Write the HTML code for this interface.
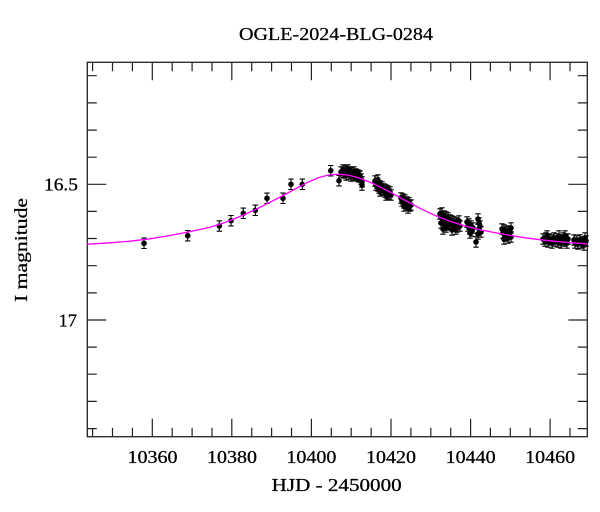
<!DOCTYPE html>
<html><head><meta charset="utf-8">
<style>
html,body{margin:0;padding:0;background:#fff;}
svg{display:block;}
text{font-family:"Liberation Serif",serif;fill:#000;stroke:#000;stroke-width:0.25;}
</style></head>
<body>
<svg width="600" height="512" viewBox="0 0 600 512" xmlns="http://www.w3.org/2000/svg">
<defs>
<g id="p"><path d="M0,-5.2V5.2M-2.7,-5.2H2.7M-2.7,5.2H2.7" stroke="#000" stroke-width="1.1" fill="none"/><circle r="2.8" fill="#000"/></g>
</defs>
<rect width="600" height="512" fill="#fff"/>

<!-- title -->
<text x="336" y="40" font-size="17.5" text-anchor="middle" textLength="194" lengthAdjust="spacingAndGlyphs">OGLE-2024-BLG-0284</text>

<!-- frame -->
<rect x="87.3" y="62.3" width="500" height="374.4" fill="none" stroke="#222" stroke-width="1.3"/>

<!-- x ticks bottom & top -->
<g stroke="#222" stroke-width="1.2">
<path d="M92.6,436.7v-9M112.5,436.7v-9M132.4,436.7v-9M152.3,436.7v-18M172.2,436.7v-9M192.1,436.7v-9M212,436.7v-9M231.8,436.7v-18M251.7,436.7v-9M271.6,436.7v-9M291.5,436.7v-9M311.4,436.7v-18M331.3,436.7v-9M351.2,436.7v-9M371.1,436.7v-9M391,436.7v-18M410.9,436.7v-9M430.8,436.7v-9M450.7,436.7v-9M470.6,436.7v-18M490.4,436.7v-9M510.3,436.7v-9M530.2,436.7v-9M550.1,436.7v-18M570,436.7v-9"/>
<path d="M92.6,62.3v9M112.5,62.3v9M132.4,62.3v9M152.3,62.3v18M172.2,62.3v9M192.1,62.3v9M212,62.3v9M231.8,62.3v18M251.7,62.3v9M271.6,62.3v9M291.5,62.3v9M311.4,62.3v18M331.3,62.3v9M351.2,62.3v9M371.1,62.3v9M391,62.3v18M410.9,62.3v9M430.8,62.3v9M450.7,62.3v9M470.6,62.3v18M490.4,62.3v9M510.3,62.3v9M530.2,62.3v9M550.1,62.3v18M570,62.3v9"/>
<!-- y ticks left & right -->
<path d="M87.3,75.7h9.5M87.3,102.9h9.5M87.3,130.1h9.5M87.3,157.2h9.5M87.3,184.3h19M87.3,211.4h9.5M87.3,238.5h9.5M87.3,265.7h9.5M87.3,292.9h9.5M87.3,320h19M87.3,347.1h9.5M87.3,374.2h9.5M87.3,401.4h9.5M87.3,428.6h9.5"/>
<path d="M587.3,75.7h-9.5M587.3,102.9h-9.5M587.3,130.1h-9.5M587.3,157.2h-9.5M587.3,184.3h-19M587.3,211.4h-9.5M587.3,238.5h-9.5M587.3,265.7h-9.5M587.3,292.9h-9.5M587.3,320h-19M587.3,347.1h-9.5M587.3,374.2h-9.5M587.3,401.4h-9.5M587.3,428.6h-9.5"/>
</g>

<!-- x tick labels -->
<g font-size="17.5" text-anchor="middle">
<text x="152.5" y="463" textLength="50" lengthAdjust="spacingAndGlyphs">10360</text>
<text x="232" y="463" textLength="50" lengthAdjust="spacingAndGlyphs">10380</text>
<text x="311.4" y="463" textLength="50" lengthAdjust="spacingAndGlyphs">10400</text>
<text x="391" y="463" textLength="50" lengthAdjust="spacingAndGlyphs">10420</text>
<text x="470.6" y="463" textLength="50" lengthAdjust="spacingAndGlyphs">10440</text>
<text x="550.1" y="463" textLength="50" lengthAdjust="spacingAndGlyphs">10460</text>
</g>
<!-- y tick labels -->
<g font-size="17.5" text-anchor="end">
<text x="78" y="190.7" textLength="34" lengthAdjust="spacingAndGlyphs">16.5</text>
<text x="77" y="326.5" textLength="18.5" lengthAdjust="spacingAndGlyphs">17</text>
</g>

<!-- axis titles -->
<text x="336.7" y="491" font-size="17.5" text-anchor="middle" textLength="130" lengthAdjust="spacingAndGlyphs">HJD - 2450000</text>
<text transform="translate(27,250) rotate(-90)" x="0" y="0" font-size="18" text-anchor="middle" textLength="104" lengthAdjust="spacingAndGlyphs">I magnitude</text>

<!-- data points -->
<g>
<use href="#p" x="144" y="243.3"/>
<use href="#p" x="187.7" y="235.7"/>
<use href="#p" x="219.3" y="226"/>
<use href="#p" x="231" y="220.7"/>
<use href="#p" x="243.3" y="213.3"/>
<use href="#p" x="255.3" y="210.3"/>
<use href="#p" x="267" y="198.3"/>
<use href="#p" x="283" y="198.3"/>
<use href="#p" x="291" y="184.3"/>
<use href="#p" x="302.3" y="184.3"/>
<use href="#p" x="330.7" y="170.7"/>
<use href="#p" x="339" y="180.7"/>
<!-- cluster A -->
<use href="#p" x="341" y="172"/><use href="#p" x="343" y="170"/><use href="#p" x="344" y="173"/><use href="#p" x="345" y="171"/>
<use href="#p" x="347" y="172"/><use href="#p" x="348" y="170"/><use href="#p" x="349" y="174"/><use href="#p" x="350" y="172"/>
<use href="#p" x="352" y="173"/><use href="#p" x="353" y="175"/><use href="#p" x="354" y="172"/><use href="#p" x="355" y="175"/>
<use href="#p" x="356" y="174"/><use href="#p" x="357" y="176"/><use href="#p" x="358" y="175"/><use href="#p" x="359" y="177"/>
<use href="#p" x="360" y="176"/><use href="#p" x="361" y="179"/><use href="#p" x="362" y="182"/><use href="#p" x="362" y="185"/>
<use href="#p" x="346" y="175"/><use href="#p" x="351" y="176"/>
<!-- cluster B -->
<use href="#p" x="375" y="181"/><use href="#p" x="376" y="185"/><use href="#p" x="377" y="183"/><use href="#p" x="378" y="186"/>
<use href="#p" x="378" y="180"/><use href="#p" x="379" y="188"/><use href="#p" x="380" y="186"/><use href="#p" x="381" y="189"/>
<use href="#p" x="382" y="187"/><use href="#p" x="383" y="190"/><use href="#p" x="384" y="189"/><use href="#p" x="385" y="192"/>
<use href="#p" x="386" y="190"/><use href="#p" x="387" y="193"/><use href="#p" x="388" y="191"/><use href="#p" x="389" y="194"/>
<use href="#p" x="390" y="192"/><use href="#p" x="391" y="195"/><use href="#p" x="380" y="191"/><use href="#p" x="386" y="195"/>
<!-- cluster C -->
<use href="#p" x="401" y="198"/><use href="#p" x="402" y="201"/><use href="#p" x="403" y="199"/><use href="#p" x="404" y="203"/>
<use href="#p" x="405" y="200"/><use href="#p" x="406" y="204"/><use href="#p" x="407" y="202"/><use href="#p" x="408" y="205"/>
<use href="#p" x="409" y="203"/><use href="#p" x="410" y="206"/><use href="#p" x="411" y="205"/><use href="#p" x="404" y="206"/>
<use href="#p" x="408" y="208"/>
<!-- cluster D -->
<use href="#p" x="440" y="214"/><use href="#p" x="441" y="217"/><use href="#p" x="442" y="213"/><use href="#p" x="443" y="219"/>
<use href="#p" x="444" y="216"/><use href="#p" x="445" y="220"/><use href="#p" x="446" y="217"/><use href="#p" x="447" y="222"/>
<use href="#p" x="448" y="218"/><use href="#p" x="449" y="223"/><use href="#p" x="450" y="220"/><use href="#p" x="451" y="224"/>
<use href="#p" x="452" y="221"/><use href="#p" x="453" y="226"/><use href="#p" x="454" y="222"/><use href="#p" x="455" y="225"/>
<use href="#p" x="456" y="223"/><use href="#p" x="457" y="227"/><use href="#p" x="458" y="224"/><use href="#p" x="459" y="221"/>
<use href="#p" x="460" y="226"/><use href="#p" x="441" y="223"/><use href="#p" x="446" y="227"/><use href="#p" x="443" y="229"/>
<use href="#p" x="452" y="230"/><use href="#p" x="456" y="229"/><use href="#p" x="448" y="225"/><use href="#p" x="444" y="224"/>
<!-- cluster E -->
<use href="#p" x="467" y="222"/><use href="#p" x="468" y="226"/><use href="#p" x="469" y="224"/><use href="#p" x="470" y="229"/>
<use href="#p" x="471" y="226"/><use href="#p" x="472" y="231"/><use href="#p" x="473" y="228"/><use href="#p" x="470" y="233"/>
<use href="#p" x="478" y="219"/><use href="#p" x="479" y="223"/><use href="#p" x="480" y="226"/><use href="#p" x="479" y="229"/>
<use href="#p" x="481" y="232"/><use href="#p" x="478" y="234"/><use href="#p" x="476" y="242"/>
<!-- cluster F -->
<use href="#p" x="502" y="229"/><use href="#p" x="503" y="233"/><use href="#p" x="504" y="230"/><use href="#p" x="505" y="236"/>
<use href="#p" x="506" y="232"/><use href="#p" x="507" y="235"/><use href="#p" x="508" y="231"/><use href="#p" x="509" y="234"/>
<use href="#p" x="510" y="232"/><use href="#p" x="511" y="237"/><use href="#p" x="504" y="239"/><use href="#p" x="508" y="238"/>
<use href="#p" x="511" y="228"/>
<!-- cluster G -->
<use href="#p" x="543" y="239"/><use href="#p" x="545" y="241"/><use href="#p" x="546" y="238"/><use href="#p" x="548" y="242"/>
<use href="#p" x="549" y="239"/><use href="#p" x="551" y="240"/><use href="#p" x="552" y="243"/><use href="#p" x="554" y="238"/>
<use href="#p" x="555" y="241"/><use href="#p" x="557" y="239"/><use href="#p" x="558" y="242"/><use href="#p" x="560" y="240"/>
<use href="#p" x="561" y="243"/><use href="#p" x="563" y="238"/><use href="#p" x="564" y="241"/><use href="#p" x="566" y="240"/>
<use href="#p" x="567" y="243"/><use href="#p" x="568" y="239"/><use href="#p" x="574" y="240"/><use href="#p" x="575" y="243"/>
<use href="#p" x="577" y="241"/><use href="#p" x="578" y="244"/><use href="#p" x="580" y="240"/><use href="#p" x="581" y="243"/>
<use href="#p" x="583" y="242"/><use href="#p" x="584" y="245"/><use href="#p" x="586" y="241"/><use href="#p" x="585" y="238"/>
<use href="#p" x="547" y="236"/><use href="#p" x="559" y="236"/><use href="#p" x="565" y="236"/>
</g>

<!-- model curve -->
<polyline fill="none" stroke="#ff00ff" stroke-width="1.3" stroke-linejoin="round"
points="87.3,244.2 110,242.8 130,241.2 150,238.8 170,235.5 190,231.6 210,227.3 225,222.5 240,216.5 255,209.8 270,202.3 285,194.5 297,188 308,182.2 318,177.9 326,175.6 333,174.5 340,174.3 347,175 355,176.8 363,179.4 372,183 380,186.9 388,191 397,195.8 405,200.3 413,204.6 420,208.3 430,213.2 440,217.5 453,222.3 465,226 480,229.8 495,232.6 510,235.4 525,237.8 540,239.7 555,241.3 570,242.6 587.3,243.8"/>
</svg>
</body></html>
